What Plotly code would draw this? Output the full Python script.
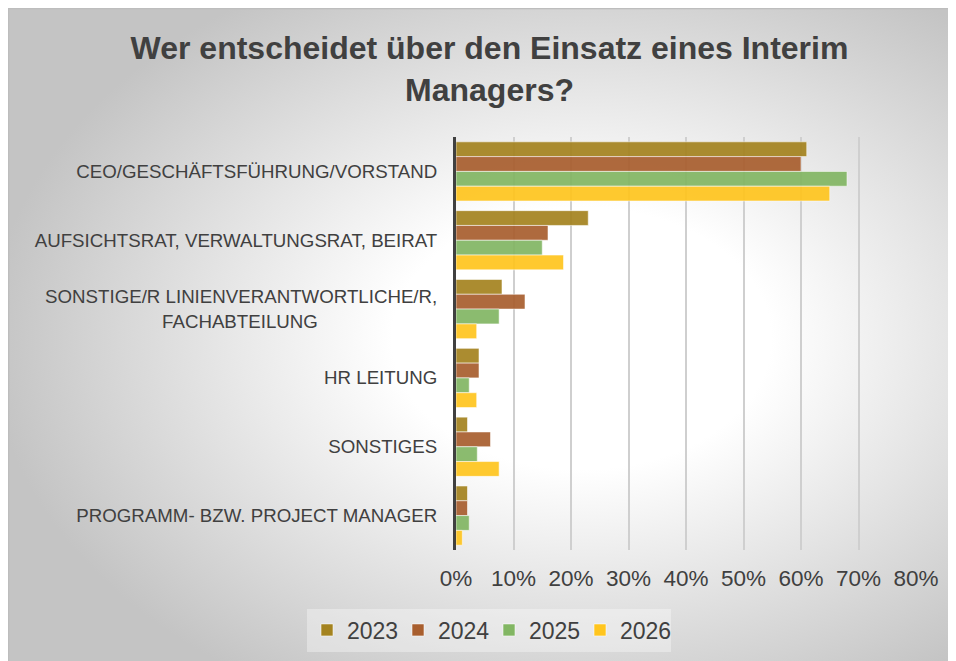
import plotly.graph_objects as go
import base64

categories = [
    "CEO/GESCHÄFTSFÜHRUNG/VORSTAND",
    "AUFSICHTSRAT, VERWALTUNGSRAT, BEIRAT",
    "SONSTIGE/R LINIENVERANTWORTLICHE/R,<br>FACHABTEILUNG" + "\u00a0" * 23,
    "HR LEITUNG",
    "SONSTIGES",
    "PROGRAMM- BZW. PROJECT MANAGER",
]
years = ["2023", "2024", "2025", "2026"]
v2023 = [0.61, 0.23, 0.08, 0.04, 0.02, 0.02]
v2024 = [0.60, 0.16, 0.12, 0.04, 0.06, 0.02]
v2025 = [0.68, 0.15, 0.075, 0.023, 0.037, 0.023]
v2026 = [0.65, 0.187, 0.036, 0.036, 0.075, 0.011]
colors = ["#A4831F", "#A85E2E", "#82B663", "#FFC51E"]
x_ticks = [0, 0.1, 0.2, 0.3, 0.4, 0.5, 0.6, 0.7, 0.8]

W, H = 956, 661
L, R, T, B = 448, 48, 129, 119
pw, ph = W - L - R, H - T - B

fig = go.Figure()
for yr, vals, col in zip(years, [v2023, v2024, v2025, v2026], colors):
    fig.add_trace(go.Bar(
        y=categories, x=vals, name=yr, orientation="h",
        marker=dict(color=col, opacity=0.92,
                    line=dict(color="rgba(255,255,255,0.55)", width=1)),
    ))

svg = (
    '<svg xmlns="http://www.w3.org/2000/svg" width="956" height="661" '
    'viewBox="0 0 956 661" preserveAspectRatio="none">'
    '<defs><radialGradient id="g" cx="0.6" cy="0.5" r="0.62">'
    '<stop offset="0" stop-color="#ffffff"/>'
    '<stop offset="0.32" stop-color="#ffffff"/>'
    '<stop offset="1" stop-color="#c4c4c4"/>'
    '</radialGradient></defs>'
    '<rect x="0.5" y="0.5" width="955" height="660" fill="url(#g)" '
    'stroke="#bdbdbd" stroke-width="1.5"/></svg>'
)
src = "data:image/svg+xml;base64," + base64.b64encode(svg.encode()).decode()

fig.add_layout_image(dict(
    source=src, xref="paper", yref="paper",
    x=-L / pw, y=1 + T / ph,
    sizex=W / pw, sizey=H / ph,
    xanchor="left", yanchor="top", sizing="stretch", layer="below",
))

fig.update_layout(
    width=W, height=H,
    margin=dict(l=L, r=R, t=T, b=B),
    paper_bgcolor="white", plot_bgcolor="rgba(0,0,0,0)",
    font=dict(family="Liberation Sans, Arial, sans-serif", color="#404040"),
    title=dict(
        text="<b>Wer entscheidet über den Einsatz eines Interim<br>Managers?</b>",
        x=481.5 / W, xanchor="center", xref="container",
        y=1 - 51 / H, yanchor="top", yref="container",
        font=dict(size=32, color="#404040"),
    ),
    barmode="group", bargap=0.14, bargroupgap=0,
    xaxis=dict(
        range=[0, 0.8], tickvals=x_ticks, tickformat=".0%",
        showgrid=True, gridcolor="#cfcfcf", gridwidth=2,
        zeroline=False, showline=False,
        tickfont=dict(size=22.5, color="#404040"),
        ticks="", ticklabelstandoff=12,
    ),
    yaxis=dict(
        autorange="reversed", showgrid=False, zeroline=False,
        showline=True, linecolor="#404040", linewidth=3,
        tickfont=dict(size=18.7, color="#404040"), ticks="",
        ticklabelstandoff=12,
    ),
    legend=dict(
        orientation="h", x=(481 - L) / pw, xanchor="center",
        y=(H - B - 622) / ph, yanchor="middle",
        font=dict(size=23, color="#404040"),
        bgcolor="rgba(255,255,255,0.35)", itemwidth=30,
        entrywidth=46, entrywidthmode="pixels",
        traceorder="normal",
    ),
    showlegend=True,
)

fig.write_html("out.html")
